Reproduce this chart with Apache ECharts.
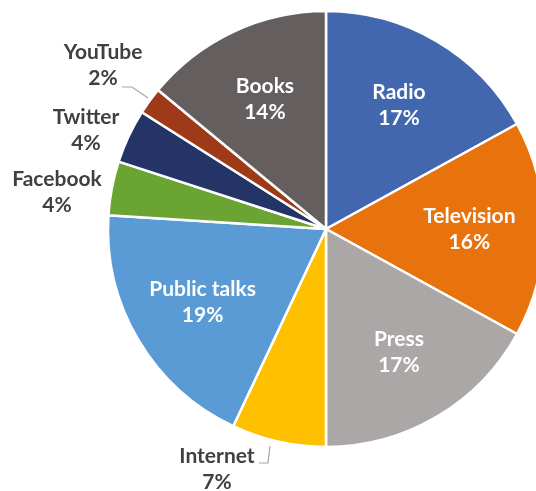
<!DOCTYPE html>
<html><head><meta charset="utf-8">
<script src="https://cdn.jsdelivr.net/npm/echarts@6/dist/echarts.min.js"></script>
<style>html,body{margin:0;padding:0;background:#fff}#c{width:536px;height:491px}</style>
</head><body><div id="c"></div>
<script>
const categories = ['Radio','Television','Press','Internet','Public talks','Facebook','Twitter','YouTube','Books'];
const values = [17,16,17,7,19,4,4,2,14];
const colors = ['#4267AF','#E8720C','#ABA7A6','#FFC000','#5B9BD5','#6AA533','#243467','#9E3A17','#645F5E'];
const outside = ['Internet','Facebook','Twitter','YouTube'];
const CX = 326, CY = 229, R = 218;
// label centers for outside labels (layout only)
const outsidePos = {
  'Internet': {x:217, y:469, line:[[270,446],[268,463],[259,463]]},
  'Facebook': {x:57, y:192},
  'Twitter': {x:86, y:130},
  'YouTube': {x:103, y:65, line:[[148,98],[132,87],[122,87]]}
};
const chart = echarts.init(document.getElementById('c'));
chart.setOption({
  animation:false,
  series:[{
    type:'pie',
    center:[CX,CY],
    radius:[0,R],
    startAngle:90,
    clockwise:true,
    avoidLabelOverlap:false,
    itemStyle:{borderColor:'#fff',borderWidth:2.5},
    label:{
      position:'inside',
      formatter:p=>p.name+'\n'+p.value+'%',
      fontFamily:'Lato',
      fontWeight:'bold',
      fontSize:21,
      lineHeight:26,
      color:'#fff',
      align:'center'
    },
    labelLine:{show:false},
    labelLayout: function(p){
      const name = categories[p.dataIndex];
      const o = outsidePos[name];
      if(!o){
        const lx = p.labelRect.x + p.labelRect.width/2;
        const ly = p.labelRect.y + p.labelRect.height/2;
        const k = 1.28;
        return {x: CX + (lx-CX)*k, y: CY + (ly-CY)*k, align:'center', verticalAlign:'middle'};
      }
      const r = {x:o.x, y:o.y, align:'center', verticalAlign:'middle'};
      if(o.line) r.labelLinePoints = o.line;
      return r;
    },
    data: categories.map((c,i)=>{
      const d = {name:c, value:values[i], itemStyle:{color:colors[i]}};
      if(outside.includes(c)){
        d.label = {position:'outside', color:'#404040'};
        d.labelLine = {show: !!outsidePos[c].line, lineStyle:{color:'#A6A6A6',width:1.2}};
      }
      return d;
    })
  }]
});
</script></body></html>
